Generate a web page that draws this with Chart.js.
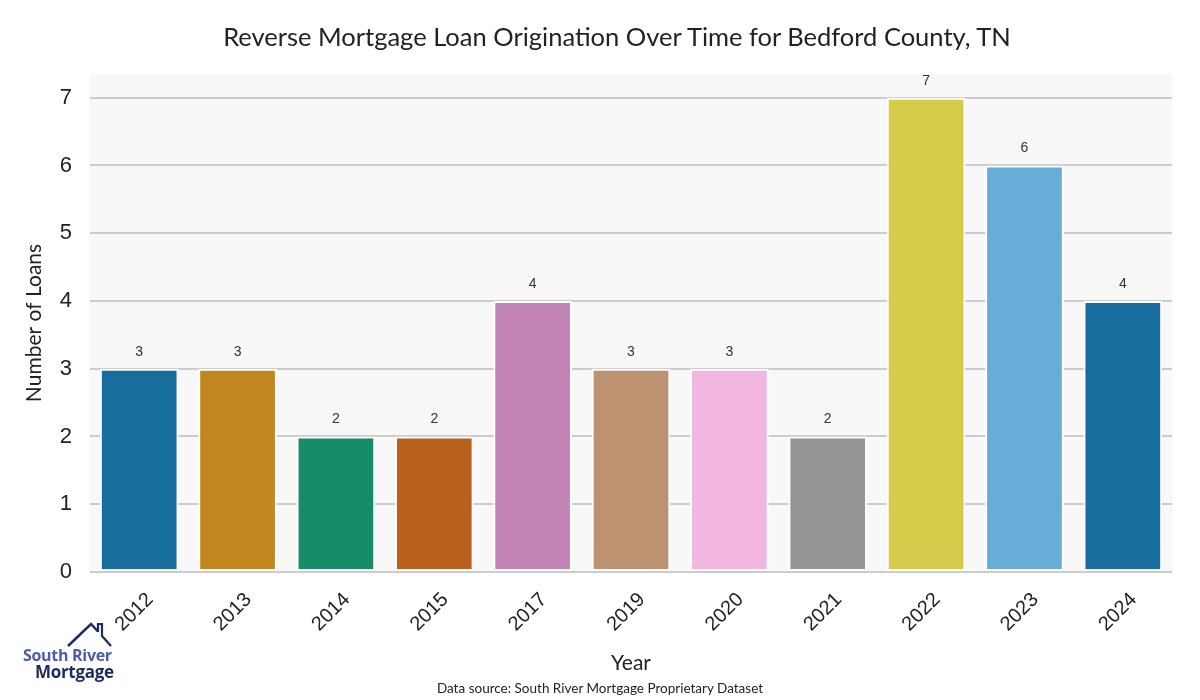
<!DOCTYPE html>
<html lang="en">
  <head>
    <meta charset="UTF-8" />
    <title>Reverse Mortgage Loan Origination - Bedford County, TN</title>
    <script src="https://cdn.jsdelivr.net/npm/chart.js@4.4.1/dist/chart.umd.min.js"></script>
    <style>
      html, body { margin: 0; padding: 0; background: #fff; }
      .wrap { position: relative; width: 1200px; height: 700px; }
      .title {
        position: absolute; left: 0; width: 1234px; top: 21px;
        text-align: center; font: 25.5px Lato, sans-serif; color: #222;
      }
      .source {
        position: absolute; left: 0; width: 1200px; top: 680px;
        text-align: center; font: 13.5px Lato, sans-serif; color: #222;
      }
      .logo { position: absolute; left: 22px; top: 622px; width: 100px; height: 60px; }
      .logo .l1 { position: absolute; left: 1px; top: 22px; font: bold 16px "Open Sans", sans-serif; color: #4a5bb0; letter-spacing: -0.3px; white-space: nowrap; }
      .logo .l2 { position: absolute; left: 13px; top: 38px; font: bold 17px "Open Sans", sans-serif; color: #1f2a5e; letter-spacing: -0.3px; white-space: nowrap; }
    </style>
  </head>
  <body>
    <div class="wrap">
      <canvas id="myChart" width="1200" height="700"></canvas>
      <div class="title">Reverse Mortgage Loan Origination Over Time for Bedford County, TN</div>
      <div class="source">Data source: South River Mortgage Proprietary Dataset</div>
      <div class="logo">
        <svg width="100" height="30" style="position:absolute;left:0;top:0">
          <polyline points="46,24 69,2 76,9.5" fill="none" stroke="#1f2a5e" stroke-width="2.5" />
          <polyline points="76,10 76,2 80,2 80,14 89,24" fill="none" stroke="#1f2a5e" stroke-width="2.2" />
        </svg>
        <div class="l1">South River</div>
        <div class="l2">Mortgage</div>
      </div>
    </div>

    <script>
      var years = ["2012", "2013", "2014", "2015", "2017", "2019", "2020", "2021", "2022", "2023", "2024"];
      var loans = [3, 3, 2, 2, 4, 3, 3, 2, 7, 6, 4];
      var barColors = [
        "#176d9c", "#c28620", "#168c6a", "#b9601c", "#c283b5", "#bc9270",
        "#f1b7e0", "#959595", "#d6cc4a", "#66aed8", "#176d9c",
      ];
      var yTicks = [0, 1, 2, 3, 4, 5, 6, 7];

      // grey plot background
      var plotBg = {
        id: "plotBg",
        beforeDraw: function (chart) {
          var a = chart.chartArea;
          var ctx = chart.ctx;
          ctx.save();
          ctx.fillStyle = "#f8f8f8";
          ctx.fillRect(a.left, a.top, a.right - a.left, a.bottom - a.top);
          ctx.restore();
        },
      };

      // numbers above the bars
      var barValues = {
        id: "barValues",
        afterDatasetsDraw: function (chart) {
          var ctx = chart.ctx;
          var meta = chart.getDatasetMeta(0);
          ctx.save();
          ctx.font = "14px 'Liberation Sans', Arial, sans-serif";
          ctx.fillStyle = "#333";
          ctx.textAlign = "center";
          ctx.textBaseline = "middle";
          meta.data.forEach(function (bar, i) {
            ctx.fillText(loans[i], bar.x, bar.y - 17);
          });
          ctx.restore();
        },
      };

      var ctx = document.getElementById("myChart").getContext("2d");
      var myChart = new Chart(ctx, {
        type: "bar",
        data: {
          labels: years,
          datasets: [
            {
              data: loans,
              backgroundColor: barColors,
              borderColor: "#ffffff",
              borderWidth: 2,
              borderSkipped: false,
              categoryPercentage: 1,
              barPercentage: 0.8,
            },
          ],
        },
        options: {
          responsive: false,
          animation: false,
          layout: { padding: { left: 0, right: 28, top: 74, bottom: 24 } },
          plugins: {
            legend: { display: false },
            tooltip: { enabled: false },
          },
          scales: {
            x: {
              grid: { display: false },
              border: { display: false },
              ticks: {
                color: "#222",
                font: { size: 20, family: "'Liberation Sans', Arial, sans-serif" },
                minRotation: 45,
                maxRotation: 45,
                padding: 8,
                labelOffset: 11,
              },
              title: {
                display: true,
                text: "Year",
                color: "#222",
                font: { size: 21, family: "Lato, sans-serif" },
                padding: 0,
              },
              afterFit: function (scale) { scale.height = 104; },
            },
            y: {
              min: 0,
              max: 7.35,
              grid: {
                color: function (c) {
                  return c.tick && yTicks.indexOf(c.tick.value) >= 0 ? "#cccccc" : "rgba(0,0,0,0)";
                },
                lineWidth: 2,
                drawTicks: false,
              },
              border: { display: false },
              afterBuildTicks: function (scale) {
                scale.ticks = yTicks.map(function (v) { return { value: v }; });
              },
              ticks: {
                color: "#222",
                padding: 18,
                font: { size: 22, family: "'Liberation Sans', Arial, sans-serif" },
              },
              title: {
                display: true,
                text: "Number of Loans",
                color: "#222",
                font: { size: 21, family: "Lato, sans-serif" },
                padding: { top: 22, bottom: 0 },
              },
              afterFit: function (scale) { scale.width = 90; },
            },
          },
        },
        plugins: [plotBg, barValues],
      });
    </script>
  </body>
</html>
